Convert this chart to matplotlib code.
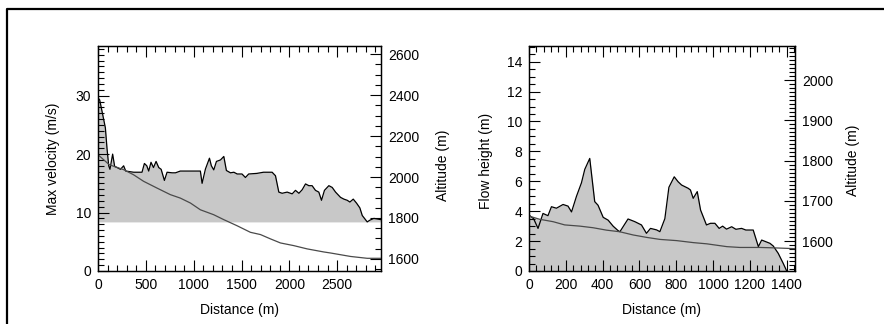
import numpy as np
import matplotlib
matplotlib.use('Agg')
import matplotlib.pyplot as plt
from matplotlib.lines import Line2D
from matplotlib.ticker import MultipleLocator

plt.rcParams['font.family'] = ['Liberation Sans', 'DejaVu Sans']
plt.rcParams['font.size'] = 10

# Left panel: max velocity along the path
dist_v = [0, 17, 40, 77, 94, 112, 125, 153, 174, 200, 235, 268, 290, 373, 460,
          485, 510, 530, 554, 580, 607, 635, 660, 694, 722, 775, 810, 860, 966,
          1070, 1088, 1123, 1165, 1185, 1210, 1238, 1280, 1315, 1342, 1385, 1420,
          1455, 1505, 1541, 1575, 1660, 1730, 1820, 1855, 1890, 1925, 1977, 2030,
          2064, 2100, 2134, 2169, 2204, 2238, 2273, 2308, 2336, 2367, 2413, 2448,
          2483, 2535, 2570, 2605, 2633, 2668, 2703, 2737, 2762, 2814, 2842, 2884, 2953]
velocity = [29.6, 29.3, 27.5, 24.5, 21.0, 18.0, 17.4, 20.0, 17.9, 17.7, 17.4, 18.0,
            17.1, 16.9, 16.9, 18.4, 18.0, 17.1, 18.6, 17.7, 18.75, 17.7, 17.4, 15.5,
            16.9, 16.8, 16.8, 17.1, 17.1, 17.1, 15.0, 17.45, 19.3, 18.0, 17.3, 18.75,
            19.0, 19.6, 17.2, 16.8, 16.9, 16.6, 16.6, 16.0, 16.6, 16.7, 16.9, 16.9,
            16.3, 13.5, 13.3, 13.5, 13.2, 13.8, 13.3, 13.9, 14.9, 14.6, 14.6, 13.8,
            13.5, 12.1, 13.8, 14.6, 14.3, 13.5, 12.6, 12.3, 12.1, 11.8, 12.3, 11.6,
            10.8, 9.5, 8.4, 8.7, 9.0, 8.8]
vel_base = 8.4

dist_alt1 = [0, 118, 268, 372, 477, 617, 756, 861, 966, 1070, 1209, 1314, 1454,
             1593, 1698, 1802, 1907, 2046, 2186, 2360, 2430, 2640, 2814, 2953]
alt1 = [2109, 2060, 2036, 2011, 1979, 1946, 1914, 1897, 1873, 1840, 1816, 1792,
        1762, 1730, 1719, 1698, 1678, 1665, 1649, 1634, 1629, 1612, 1603, 1603]

# Right panel: flow height along the path
dist_h = [0, 25, 49, 76, 103, 122, 149, 185, 212, 231, 258, 285, 303, 330, 357,
          375, 403, 430, 457, 484, 494, 538, 575, 611, 638, 660, 693, 711, 738,
          760, 789, 810, 829, 865, 877, 892, 914, 932, 964, 986, 1010, 1033, 1052,
          1073, 1101, 1124, 1155, 1178, 1218, 1246, 1264, 1309, 1327, 1354, 1381, 1400]
flow_h = [3.74, 3.5, 2.85, 3.85, 3.7, 4.3, 4.2, 4.45, 4.34, 3.95, 5.0, 5.9, 6.8,
          7.53, 4.64, 4.4, 3.59, 3.4, 3.0, 2.7, 2.63, 3.48, 3.3, 3.08, 2.52, 2.85,
          2.75, 2.63, 3.5, 5.6, 6.3, 5.97, 5.75, 5.53, 5.42, 4.86, 5.31, 4.08,
          3.08, 3.19, 3.19, 2.85, 3.0, 2.8, 2.96, 2.79, 2.85, 2.74, 2.74, 1.63,
          2.07, 1.85, 1.67, 1.18, 0.51, 0.0]

dist_alt2 = [0, 58, 131, 194, 276, 348, 421, 493, 566, 639, 711, 802, 893, 966,
             1075, 1146, 1255, 1330, 1445]
alt2 = [1662, 1654, 1648, 1640, 1637, 1633, 1627, 1623, 1615, 1609, 1604, 1601,
        1596, 1593, 1586, 1584, 1584, 1583, 1581]

fill_col = '#c8c8c8'
alt_col = '#4a4a4a'


def style(ax, ax2):
    for a in (ax, ax2):
        for s in a.spines.values():
            s.set_linewidth(0.9)
    ax.tick_params(which='both', direction='in', top=True, right=False,
                   width=0.8, pad=5)
    ax.tick_params(which='major', length=8)
    ax.tick_params(which='minor', length=4)
    ax2.tick_params(which='both', direction='in', width=0.8, pad=5)
    ax2.tick_params(which='major', length=8)
    ax2.tick_params(which='minor', length=4)


fig = plt.figure(figsize=(8.84, 3.24), dpi=100)

# ---- left panel
ax = fig.add_axes([98 / 884, 53 / 324, 283 / 884, 225 / 324])
ax2 = ax.twinx()
ax.fill_between(dist_v, vel_base, velocity, color=fill_col, lw=0, zorder=1)
ax.plot(dist_v, velocity, color='black', lw=0.9, zorder=2)
ax2.plot(dist_alt1, alt1, color=alt_col, lw=0.9)
ax.set_xlim(0, 2958)
ax.set_ylim(0, 38.5)
ax2.set_ylim(1541, 2640)
ax.xaxis.set_major_locator(MultipleLocator(500))
ax.xaxis.set_minor_locator(MultipleLocator(100))
ax.set_yticks([0, 10, 20, 30])
ax.yaxis.set_minor_locator(MultipleLocator(1))
ax2.set_yticks([1600, 1800, 2000, 2200, 2400, 2600])
ax2.yaxis.set_minor_locator(MultipleLocator(50))
style(ax, ax2)
ax.set_xlabel('Distance (m)')
ax.set_ylabel('Max velocity (m/s)')
ax2.set_ylabel('Altitude (m)')
ax.xaxis.set_label_coords(0.5, -0.142)
ax.yaxis.set_label_coords(-0.134, 0.5)
ax2.yaxis.set_label_coords(1.194, 0.47)

# ---- right panel
bx = fig.add_axes([529 / 884, 53 / 324, 266 / 884, 225 / 324])
bx2 = bx.twinx()
h_lo, h_hi = 0, 15.05
a_lo, a_hi = 1525.5, 2084.5
bx.set_xlim(0, 1445)
bx.set_ylim(h_lo, h_hi)
bx2.set_ylim(a_lo, a_hi)
# area under the altitude line, expressed in flow-height units
alt2_in_h = (np.array(alt2) - a_lo) / (a_hi - a_lo) * (h_hi - h_lo)
sel = np.array(dist_alt2) <= 1255
bx.fill_between(np.array(dist_alt2)[sel], 0, alt2_in_h[sel], color=fill_col, lw=0, zorder=1)
bx.fill_between(dist_h, 0, flow_h, color=fill_col, lw=0, zorder=1)
bx.plot(dist_h, flow_h, color='black', lw=0.9, zorder=2)
bx2.plot(dist_alt2, alt2, color=alt_col, lw=0.9)
bx.xaxis.set_major_locator(MultipleLocator(200))
bx.xaxis.set_minor_locator(MultipleLocator(40))
bx.set_yticks(np.arange(0, 15, 2))
bx.yaxis.set_minor_locator(MultipleLocator(0.5))
bx2.set_yticks([1600, 1700, 1800, 1900, 2000])
bx2.yaxis.set_minor_locator(MultipleLocator(10))
style(bx, bx2)
bx.set_xlabel('Distance (m)')
bx.set_ylabel('Flow height (m)')
bx2.set_ylabel('Altitude (m)')
bx.xaxis.set_label_coords(0.5, -0.142)
bx.yaxis.set_label_coords(-0.135, 0.49)
bx2.yaxis.set_label_coords(1.19, 0.49)

# outer frame (top and left edges)
fig.add_artist(Line2D([7.5 / 884, 7.5 / 884, 1.0], [0.0, 1 - 8.5 / 324, 1 - 8.5 / 324],
                      transform=fig.transFigure, color='black', lw=1.6))

fig.savefig('out.png', dpi=100)
